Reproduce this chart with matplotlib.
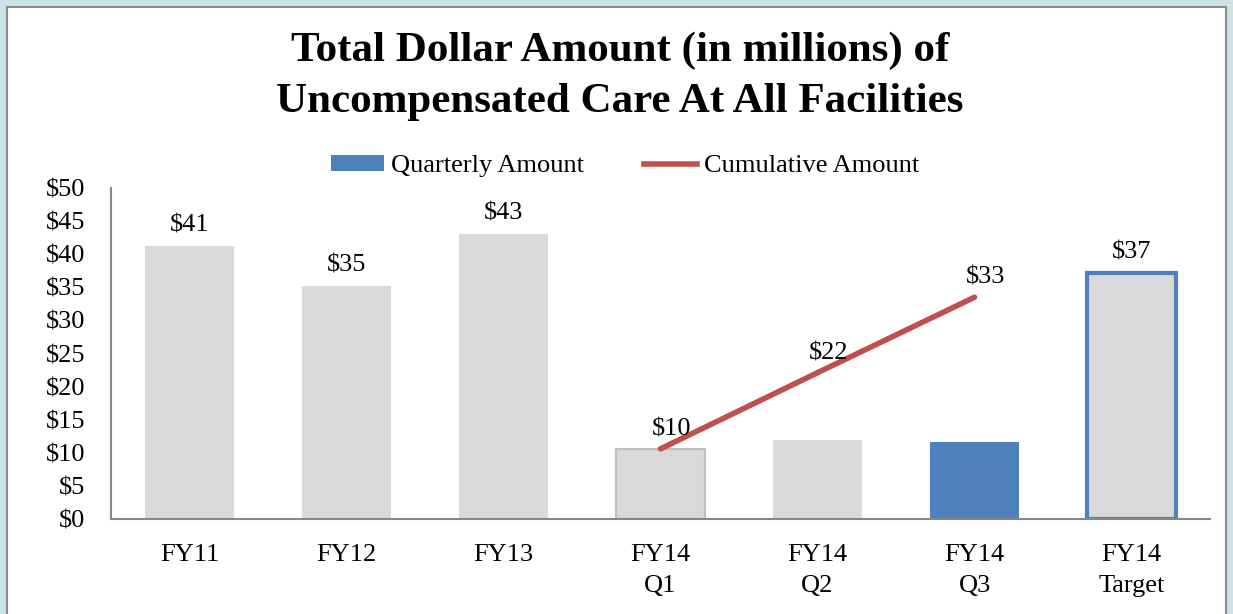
import matplotlib
matplotlib.use("Agg")
import matplotlib.pyplot as plt
from matplotlib.patches import Rectangle
from matplotlib.lines import Line2D
from matplotlib.patches import Patch

plt.rcParams['font.family'] = ['Liberation Serif', 'DejaVu Serif']

categories = ['FY11', 'FY12', 'FY13', 'FY14\nQ1', 'FY14\nQ2', 'FY14\nQ3', 'FY14\nTarget']
bar_values = [41.2, 35.2, 43.0, 10.6, 11.9, 11.6, 37.2]
bar_labels = ['$41', '$35', '$43', '', '', '', '$37']
cum_idx = [3, 4, 5]
cum_values = [10.6, 22.1, 33.5]
cum_labels = ['$10', '$22', '$33']

gray = '#d9d9d9'
blue = '#4f81bd'
red = '#c0504d'
fs = 19

fig = plt.figure(figsize=(12.33, 6.14), dpi=100)
fig.patch.set_facecolor('#cce3e8')
fig.patches.append(Rectangle((7 / 1233, -0.01), 1219 / 1233, 1 - 7 / 614 + 0.01,
                             transform=fig.transFigure, facecolor='white',
                             edgecolor='#8c8c8c', linewidth=1.5, zorder=-5))

ax = fig.add_axes([111 / 1233, 1 - 519 / 614, 1099 / 1233, 331 / 614])
ax.set_facecolor('none')

x = list(range(len(categories)))
faces = [gray] * 5 + [blue, gray]
edges = ['none', 'none', 'none', '#bfbfbf', 'none', 'none', blue]
widths = [0, 0, 0, 1.5, 0, 0, 3]
bars = ax.bar(x, bar_values, width=0.57, color=faces, edgecolor=edges, linewidth=widths, zorder=2)

for xi, v, lab in zip(x, bar_values, bar_labels):
    if lab:
        ax.annotate(lab, (xi, v), xytext=(0, 7), textcoords='offset points',
                    ha='center', va='bottom', fontsize=fs)

ax.plot(cum_idx, cum_values, color=red, linewidth=4, solid_capstyle='round', zorder=3)
for xi, v, lab in zip(cum_idx, cum_values, cum_labels):
    ax.annotate(lab, (xi, v), xytext=(8, 6), textcoords='offset points',
                ha='center', va='bottom', fontsize=fs)

ax.set_xlim(-0.5, len(categories) - 0.5)
ax.set_ylim(0, 50)
ax.set_yticks(range(0, 51, 5))
ax.set_yticklabels(['$%d' % t for t in range(0, 51, 5)], fontsize=fs)
ax.set_xticks(x)
ax.set_xticklabels(categories, fontsize=fs, linespacing=1.55)
ax.tick_params(length=0)
ax.tick_params(axis='y', pad=18.5)
ax.tick_params(axis='x', pad=18)
for s in ['top', 'right']:
    ax.spines[s].set_visible(False)
for s in ['left', 'bottom']:
    ax.spines[s].set_color('#868686')
    ax.spines[s].set_linewidth(1.5)

fig.text(620 / 1233, 1 - 76 / 614, 'Total Dollar Amount (in millions) of\nUncompensated Care At All Facilities',
         ha='center', va='center', fontsize=31, fontweight='bold', linespacing=1.45)

handles = [Patch(facecolor=blue, edgecolor='none'),
           Line2D([0], [0], color=red, linewidth=4)]
fig.legend(handles, ['Quarterly Amount', 'Cumulative Amount'], loc='center',
           bbox_to_anchor=(625 / 1233, 1 - 166 / 614), ncol=2, frameon=False,
           fontsize=fs, handlelength=2.0, handleheight=0.6, handletextpad=0.25,
           columnspacing=2.3)

fig.savefig('out.png', dpi=100)
